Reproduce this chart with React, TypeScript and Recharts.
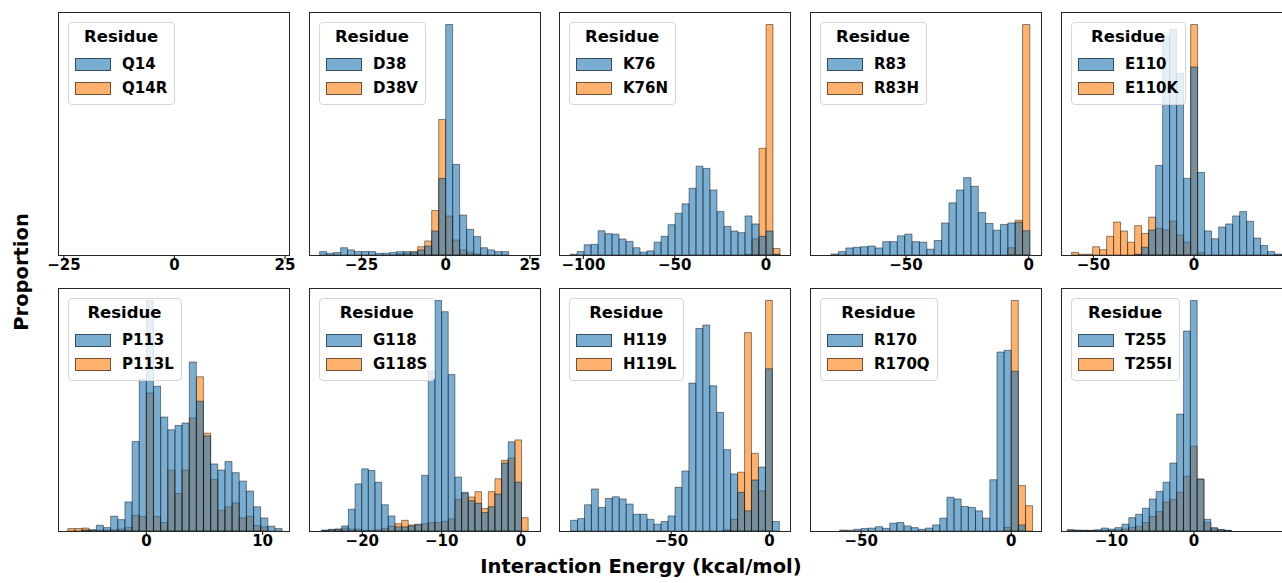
import React from "react";
import { BarChart, Bar, XAxis, YAxis, Legend } from "recharts";

// bin centres (kcal/mol) and bar heights (% of each panel's y range)

const q14X: number[] = [];
const q14Wt: number[] = [];
const q14Mut: number[] = [];

const d38X = [-36.4, -34.32, -32.24, -30.16, -28.08, -26.0, -23.92, -21.84, -19.76, -17.68, -15.6, -13.52, -11.44, -9.36, -7.28, -5.2, -3.12, -1.04, 1.04, 3.12, 5.2, 7.28, 9.36, 11.44, 13.52, 15.6, 17.68];
const d38Wt = [1.4, 0.7, 1.0, 3.0, 2.1, 1.4, 1.4, 1.4, 0.7, 0.7, 1.0, 1.4, 1.4, 1.0, 2.1, 3.7, 9.9, 31.6, 95.2, 37.4, 16.5, 10.6, 7.6, 3.0, 2.1, 1.4, 1.4];
const d38Mut = [0, 0, 0, 0, 0, 0, 0, 0, 0, 0, 0, 0.4, 0.7, 1.4, 3.4, 5.8, 18.4, 56.0, 16.1, 6.2, 2.1, 1.1, 0.4, 0, 0, 0, 0];

const k76X = [-105.33, -101.5, -97.67, -93.84, -90.01, -86.18, -82.35, -78.52, -74.69, -70.86, -67.03, -63.2, -59.37, -55.54, -51.71, -47.88, -44.05, -40.22, -36.39, -32.56, -28.73, -24.9, -21.07, -17.24, -13.41, -9.58, -5.75, -1.92, 1.92, 5.75];
const k76Wt = [0.3, 1.4, 4.2, 4.4, 10.0, 8.8, 8.6, 6.6, 5.6, 3.0, 1.2, 1.7, 5.3, 7.7, 12.5, 17.2, 21.1, 27.5, 36.6, 35.7, 26.8, 17.9, 11.8, 9.9, 9.2, 16.1, 12.8, 7.7, 9.9, 0.3];
const k76Mut = [0, 0, 0, 0, 0, 0, 0, 0, 0, 0, 0, 0, 0, 0, 0, 0, 0, 0, 0, 0, 0, 0, 0, 0, 0, 0.3, 6.7, 44.0, 95.0, 2.7];

const r83X = [-79, -76, -73, -70, -67, -64, -61, -58, -55, -52, -49, -46, -43, -40, -37, -34, -31, -28, -25, -22, -19, -16, -13, -10, -7, -4, -1];
const r83Wt = [0.4, 1.4, 2.9, 3.2, 3.4, 3.7, 2.9, 5.5, 5.5, 7.9, 8.6, 5.5, 5.3, 2.4, 6.0, 13.2, 21.5, 26.8, 31.9, 28.3, 17.5, 13.0, 10.2, 12.6, 13.2, 13.5, 10.0];
const r83Mut = [0, 0, 0, 0, 0, 0, 0, 0, 0, 0, 0, 0, 0, 0, 0, 0, 0, 0, 0, 0, 0, 0, 0, 0, 3.0, 14.3, 95.0];

const e110X = [-59.08, -55.6, -52.12, -48.64, -45.16, -41.68, -38.2, -34.72, -31.24, -27.76, -24.28, -20.8, -17.32, -13.84, -10.36, -6.88, -3.4, 0.08, 3.56, 7.04, 10.52, 14.0, 17.48, 20.96, 24.44, 27.92, 31.4, 34.88, 38.36, 41.84, 45.32];
const e110Wt = [0, 0, 0, 0, 0, 0, 0, 0, 0, 0.3, 3.2, 10.3, 36.9, 90.0, 93.0, 74.9, 31.6, 77.5, 34.0, 9.9, 6.7, 11.5, 12.8, 16.1, 17.9, 13.9, 7.0, 3.9, 1.4, 0.4, 0.2];
const e110Mut = [1.1, 0.3, 0.3, 3.4, 2.2, 7.7, 13.6, 9.9, 5.3, 12.1, 8.9, 15.6, 11.0, 10.3, 13.9, 8.2, 5.3, 95.0, 1.0, 0, 0, 0, 0, 0, 0, 0, 0, 0, 0, 0, 0];

const p113X = [-6.46, -5.84, -5.23, -4.61, -4.0, -3.38, -2.77, -2.15, -1.54, -0.92, -0.31, 0.31, 0.92, 1.54, 2.15, 2.77, 3.38, 4.0, 4.61, 5.23, 5.84, 6.46, 7.07, 7.69, 8.3, 8.92, 9.53, 10.15, 10.76, 11.38];
const p113Wt = [0, 0, 0.4, 0.5, 2.4, 1.4, 6.1, 4.7, 12.0, 37.0, 62.6, 95.2, 59.8, 47.1, 41.8, 43.6, 44.6, 69.8, 53.6, 39.3, 27.7, 25.2, 28.7, 24.1, 20.6, 16.5, 10.0, 5.4, 2.0, 1.0];
const p113Mut = [1.0, 1.0, 1.2, 0.4, 0.3, 0.3, 0.5, 0.8, 1.5, 6.5, 6.0, 57.0, 6.0, 3.5, 25.2, 15.5, 25.2, 46.7, 63.7, 40.4, 21.3, 8.6, 10.0, 11.6, 5.4, 6.1, 2.3, 1.7, 0, 0];

const g118X = [-24.7, -23.86, -23.02, -22.18, -21.34, -20.5, -19.66, -18.82, -17.98, -17.14, -16.3, -15.46, -14.62, -13.78, -12.94, -12.1, -11.26, -10.42, -9.58, -8.74, -7.9, -7.06, -6.22, -5.38, -4.54, -3.7, -2.86, -2.02, -1.18, -0.34, 0.5];
const g118Wt = [0.3, 0.7, 0.7, 2.1, 9.0, 19.4, 25.6, 24.9, 20.1, 10.8, 6.2, 1.7, 1.7, 2.1, 2.8, 22.9, 65.8, 94.9, 90.3, 64.4, 22.2, 15.9, 12.5, 11.4, 7.6, 10.0, 15.2, 28.0, 36.7, 20.1, 0];
const g118Mut = [0.3, 0.5, 0.8, 1.2, 0.8, 0.8, 0.3, 0.3, 0.5, 1.0, 2.0, 3.0, 4.4, 2.5, 2.5, 3.0, 3.5, 3.5, 4.0, 5.0, 13.0, 15.5, 14.0, 16.2, 9.3, 16.2, 21.5, 29.1, 30.0, 37.5, 5.5];

const h119X = [-99.63, -96.08, -92.53, -88.98, -85.43, -81.88, -78.33, -74.78, -71.23, -67.68, -64.13, -60.58, -57.03, -53.48, -49.93, -46.38, -42.83, -39.28, -35.73, -32.18, -28.63, -25.08, -21.53, -17.98, -14.43, -10.88, -7.33, -3.78, -0.23, 3.32];
const h119Wt = [4.4, 5.1, 10.8, 17.3, 9.7, 13.4, 14.1, 13.2, 11.1, 6.9, 6.9, 4.8, 2.8, 3.9, 6.2, 18.0, 24.7, 60.9, 83.4, 84.8, 59.8, 48.8, 33.5, 23.5, 15.9, 8.3, 21.0, 26.3, 66.8, 3.9];
const h119Mut = [0, 0, 0, 0, 0, 0, 0, 0, 0, 0, 0, 0, 0, 0, 0, 0, 0, 0, 0, 0, 0, 0, 0.5, 4.8, 24.2, 81.7, 32.0, 16.6, 94.9, 0];

const r170X = [-55.93, -53.55, -51.17, -48.79, -46.41, -44.03, -41.65, -39.27, -36.89, -34.51, -32.13, -29.75, -27.37, -24.99, -22.61, -20.23, -17.85, -15.47, -13.09, -10.71, -8.33, -5.95, -3.57, -1.19, 1.19, 3.57, 5.95];
const r170Wt = [0.4, 0.3, 0.7, 1.0, 1.2, 1.8, 1.1, 3.2, 3.5, 2.1, 1.4, 0.7, 1.2, 2.5, 5.3, 13.9, 13.2, 10.1, 9.7, 8.3, 5.3, 21.1, 73.7, 74.4, 65.8, 2.5, 0];
const r170Mut = [0, 0, 0, 0, 0, 0, 0, 0, 0, 0, 0, 0, 0, 0, 0, 0, 0, 0, 0, 0, 0, 0, 0, 1.5, 94.9, 18.7, 10.4];

const t255X = [-14.95, -14.12, -13.29, -12.46, -11.63, -10.8, -9.97, -9.14, -8.31, -7.48, -6.65, -5.82, -4.99, -4.16, -3.33, -2.5, -1.67, -0.84, -0.01, 0.82, 1.65, 2.48, 3.31, 4.14];
const t255Wt = [0.6, 0.4, 0.3, 0.3, 0.5, 1.2, 0.8, 1.4, 2.8, 5.5, 6.9, 9.4, 13.2, 16.3, 20.1, 28.0, 48.2, 82.4, 95.0, 21.2, 4.8, 1.4, 0.6, 0.3];
const t255Mut = [0.2, 0.2, 0.2, 0.2, 0.2, 0.3, 0.2, 0.5, 0.8, 1.5, 2.0, 3.5, 6.0, 8.0, 12.0, 13.0, 16.0, 22.5, 34.9, 21.5, 3.5, 1.0, 0.5, 0.2];

type Panel = {
  wt: string;
  mut: string;
  x: number[];
  a: number[];
  b: number[];
  domain: [number, number];
  ticks: number[];
};

const panels: Panel[] = [
  { wt: "Q14", mut: "Q14R", x: q14X, a: q14Wt, b: q14Mut, domain: [-26.1, 25.9], ticks: [-25, 0, 25] },
  { wt: "D38", mut: "D38V", x: d38X, a: d38Wt, b: d38Mut, domain: [-40.3, 28.0], ticks: [-25, 0, 25] },
  { wt: "K76", mut: "K76N", x: k76X, a: k76Wt, b: k76Mut, domain: [-112.8, 13.1], ticks: [-100, -50, 0] },
  { wt: "R83", mut: "R83H", x: r83X, a: r83Wt, b: r83Mut, domain: [-88.7, 5.0], ticks: [-50, 0] },
  { wt: "E110", mut: "E110K", x: e110X, a: e110Wt, b: e110Mut, domain: [-65.6, 48.7], ticks: [-50, 0] },
  { wt: "P113", mut: "P113L", x: p113X, a: p113Wt, b: p113Mut, domain: [-7.52, 12.27], ticks: [0, 10] },
  { wt: "G118", mut: "G118S", x: g118X, a: g118Wt, b: g118Mut, domain: [-26.6, 2.4], ticks: [-20, -10, 0] },
  { wt: "H119", mut: "H119L", x: h119X, a: h119Wt, b: h119Mut, domain: [-106.8, 10.5], ticks: [-50, 0] },
  { wt: "R170", mut: "R170Q", x: r170X, a: r170Wt, b: r170Mut, domain: [-66.7, 9.9], ticks: [-50, 0] },
  { wt: "T255", mut: "T255I", x: t255X, a: t255Wt, b: t255Mut, domain: [-16.0, 11.9], ticks: [-10, 0] },
];

const PANEL_W = 230;
const PANEL_H = 242;
const AXIS_H = 30;
const SIDE = 24; // room for tick labels that hang past the frame
const COLS = [59, 310, 560, 811, 1062];
const ROWS = [13, 289];

const BLUE = "#1f77b4";
const ORANGE = "#ff7f0e";
const FONT = '"DejaVu Sans", sans-serif';

const fmt = (v: number) => (v < 0 ? "\u2212" + Math.abs(v) : String(v));

function PanelLegend({ wt, mut }: { wt: string; mut: string }) {
  const row = (label: string, color: string) => (
    <div style={{ display: "flex", alignItems: "center", height: 24 }}>
      <span
        style={{
          display: "inline-block",
          width: 36,
          height: 13,
          boxSizing: "border-box",
          background: color,
          border: "1px solid rgba(0,0,0,0.55)",
          marginRight: 11,
        }}
      />
      <span style={{ fontSize: 15, lineHeight: "15px" }}>{label}</span>
    </div>
  );
  return (
    <div
      style={{
        display: "inline-block",
        background: "rgba(255,255,255,0.8)",
        border: "1px solid #d6d6d6",
        borderRadius: 4,
        padding: "4px 7px 4px 6px",
        fontFamily: FONT,
        fontWeight: 700,
        color: "#000",
        whiteSpace: "nowrap",
      }}
    >
      <div style={{ fontSize: 16.5, lineHeight: "20px", textAlign: "center" }}>Residue</div>
      <div style={{ marginTop: 5 }}>
        {row(wt, "rgba(31,119,180,0.6)")}
        {row(mut, "rgba(255,127,14,0.6)")}
      </div>
    </div>
  );
}

function HistPanel({ p, left, top }: { p: Panel; left: number; top: number }) {
  const rows = p.x.map((x, i) => ({ x, wt: p.a[i], mut: p.b[i] }));
  const [lo, hi] = p.domain;
  const scale = PANEL_W / (hi - lo);
  let gap = Infinity;
  for (let i = 1; i < p.x.length; i++) gap = Math.min(gap, p.x[i] - p.x[i - 1]);
  const barSize = Number.isFinite(gap) ? gap * scale - 0.1 : 1;
  const yDomain: any = p.x.length ? [0, (m: number) => m * 1.05] : [0, 1];
  const W = PANEL_W + 2 * SIDE;

  return (
    <div style={{ position: "absolute", left: left - SIDE, top, width: W, height: PANEL_H + AXIS_H }}>
      <BarChart
        width={W}
        height={PANEL_H + AXIS_H}
        data={rows}
        margin={{ top: 0, right: SIDE, bottom: 0, left: SIDE }}
        barCategoryGap={0}
        barGap={0}
      >
        <XAxis
          xAxisId="wt"
          dataKey="x"
          type="number"
          domain={p.domain}
          ticks={p.ticks}
          allowDataOverflow
          interval={0}
          height={AXIS_H}
          axisLine={false}
          tickLine={{ stroke: "#262626", strokeWidth: 1.2 }}
          tickSize={4}
          tickMargin={0}
          tick={{ fontSize: 15, fontWeight: 700, fill: "#000", fontFamily: FONT }}
          tickFormatter={fmt}
        />
        <XAxis
          xAxisId="mut"
          orientation="top"
          dataKey="x"
          type="number"
          domain={p.domain}
          allowDataOverflow
          hide
        />
        <YAxis hide domain={yDomain} />
        <Legend
          verticalAlign="middle"
          align="center"
          layout="horizontal"
          wrapperStyle={{ top: 9, left: SIDE + 9, width: "auto" }}
          content={() => <PanelLegend wt={p.wt} mut={p.mut} />}
        />
        <Bar
          xAxisId="mut"
          dataKey="mut"
          name={p.mut}
          fill={ORANGE}
          fillOpacity={0.6}
          stroke="#000"
          strokeOpacity={0.6}
          strokeWidth={0.75}
          barSize={barSize}
          isAnimationActive={false}
        />
        <Bar
          xAxisId="wt"
          dataKey="wt"
          name={p.wt}
          fill={BLUE}
          fillOpacity={0.6}
          stroke="#000"
          strokeOpacity={0.6}
          strokeWidth={0.75}
          barSize={barSize}
          isAnimationActive={false}
        />
      </BarChart>
      <div
        style={{
          position: "absolute",
          left: SIDE - 0.6,
          top: -0.6,
          width: PANEL_W + 1.2,
          height: PANEL_H + 1.2,
          border: "1.25px solid #262626",
          boxSizing: "border-box",
          pointerEvents: "none",
        }}
      />
    </div>
  );
}

export default function App() {
  return (
    <div
      style={{
        position: "absolute",
        left: 0,
        top: 0,
        width: 1282,
        height: 583,
        overflow: "hidden",
        background: "#fff",
        fontFamily: FONT,
      }}
    >
      {panels.map((p, i) => (
        <HistPanel key={p.wt} p={p} left={COLS[i % 5]} top={ROWS[Math.floor(i / 5)]} />
      ))}
      <div
        style={{
          position: "absolute",
          left: 0,
          width: 1282,
          top: 555,
          textAlign: "center",
          fontSize: 19.5,
          fontWeight: 700,
          lineHeight: "24px",
          color: "#000",
        }}
      >
        Interaction Energy (kcal/mol)
      </div>
      <div
        style={{
          position: "absolute",
          left: 22,
          top: 272,
          transform: "translate(-50%, -50%) rotate(-90deg)",
          whiteSpace: "nowrap",
          fontSize: 19.5,
          fontWeight: 700,
          lineHeight: "24px",
          color: "#000",
        }}
      >
        Proportion
      </div>
    </div>
  );
}
